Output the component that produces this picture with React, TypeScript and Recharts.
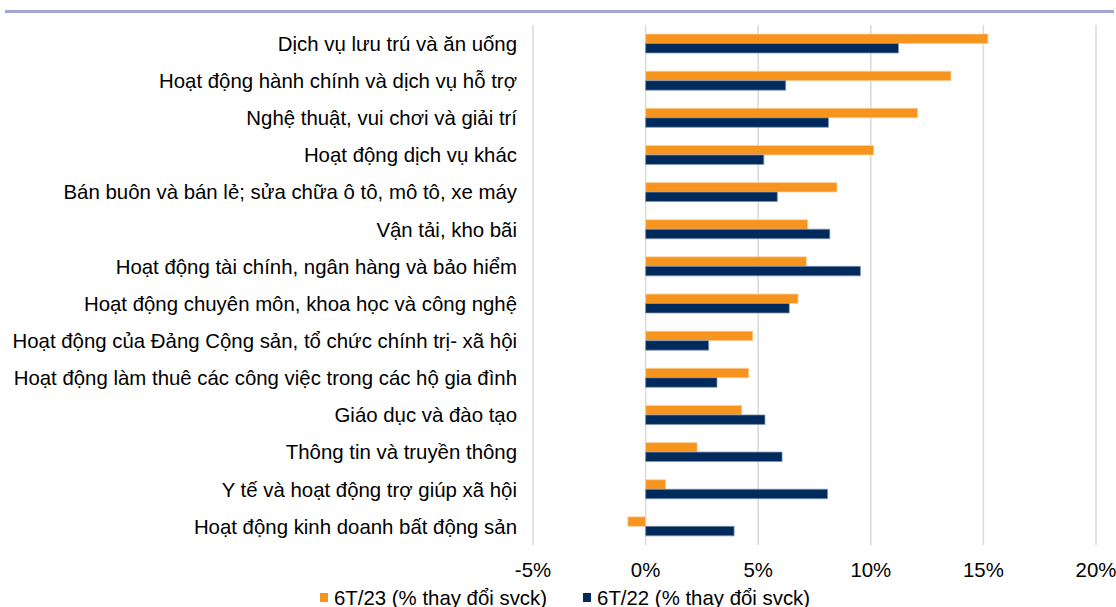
import React from "react";
import { BarChart, Bar, XAxis, YAxis, CartesianGrid, Legend } from "recharts";

const categories = [
  "Dịch vụ lưu trú và ăn uống",
  "Hoạt động hành chính và dịch vụ hỗ trợ",
  "Nghệ thuật, vui chơi và giải trí",
  "Hoạt động dịch vụ khác",
  "Bán buôn và bán lẻ; sửa chữa ô tô, mô tô, xe máy ",
  "Vận tải, kho bãi",
  "Hoạt động tài chính, ngân hàng và bảo hiểm",
  "Hoạt động chuyên môn, khoa học và công nghệ",
  "Hoạt động của Đảng Cộng sản, tổ chức chính trị- xã hội",
  "Hoạt động làm thuê các công việc trong các hộ gia đình",
  "Giáo dục và đào tạo",
  "Thông tin và truyền thông",
  "Y tế và hoạt động trợ giúp xã hội",
  "Hoạt động kinh doanh bất động sản",
];

const series23 = [15.2, 13.56, 12.08, 10.13, 8.5, 7.2, 7.14, 6.77, 4.76, 4.58, 4.27, 2.29, 0.89, -0.79];
const series22 = [11.23, 6.22, 8.12, 5.25, 5.85, 8.18, 9.54, 6.38, 2.8, 3.17, 5.3, 6.06, 8.08, 3.93];

const xTicks = [-5, 0, 5, 10, 15, 20];

const name23 = "6T/23 (% thay đổi svck)";
const name22 = "6T/22 (% thay đổi svck)";

const ORANGE = "#F7941D";
const NAVY = "#002A5C";

const data = categories.map((c, i) => ({ name: c, s23: series23[i], s22: series22[i] }));

const FONT = "'Liberation Sans', Arial, sans-serif";
const FS = 20.4;

const LegendContent = () => (
  <div
    style={{
      height: 25,
      paddingTop: 6,
      boxSizing: "border-box",
      display: "flex",
      alignItems: "center",
      paddingLeft: 320,
      fontFamily: FONT,
      fontSize: FS,
      color: "#000",
      lineHeight: "20px",
      whiteSpace: "nowrap",
    }}
  >
    <span style={{ display: "inline-block", width: 8, height: 9, background: ORANGE, marginRight: 6 }} />
    <span>{name23}</span>
    <span style={{ display: "inline-block", width: 8, height: 9, background: NAVY, marginLeft: 36, marginRight: 6 }} />
    <span>{name22}</span>
  </div>
);

export default function App() {
  return (
    <div style={{ position: "absolute", left: 0, top: 0, width: 1116, height: 607, background: "#fff" }}>
      <div style={{ position: "absolute", left: 5, top: 10, width: 1109, height: 3, background: "#A5A5D5" }} />
      <BarChart
        width={1116}
        height={607}
        data={data}
        layout="vertical"
        margin={{ top: 25, right: 20, left: 0, bottom: 0 }}
        barGap={0}
      >
        <CartesianGrid horizontal={false} stroke="#D9D9D9" strokeWidth={1.5} />
        <XAxis
          type="number"
          domain={[-5, 20]}
          ticks={xTicks}
          tickFormatter={(v: number) => `${v}%`}
          axisLine={false}
          tickLine={false}
          tickSize={0}
          tickMargin={18}
          height={37}
          interval={0}
          tick={{ fill: "#000", fontSize: FS, fontFamily: FONT }}
        />
        <YAxis
          type="category"
          dataKey="name"
          width={533}
          axisLine={false}
          tickLine={false}
          tickSize={0}
          tickMargin={16}
          interval={0}
          tick={{ fill: "#000", fontSize: FS, fontFamily: FONT }}
        />
        <Legend verticalAlign="bottom" align="left" content={<LegendContent />} />
        <Bar dataKey="s23" name={name23} fill={ORANGE} stroke="#FAD3A3" strokeWidth={0.75} barSize={9.5} isAnimationActive={false} />
        <Bar dataKey="s22" name={name22} fill={NAVY} stroke="#8096B3" strokeWidth={0.75} barSize={9.5} isAnimationActive={false} />
      </BarChart>
    </div>
  );
}
